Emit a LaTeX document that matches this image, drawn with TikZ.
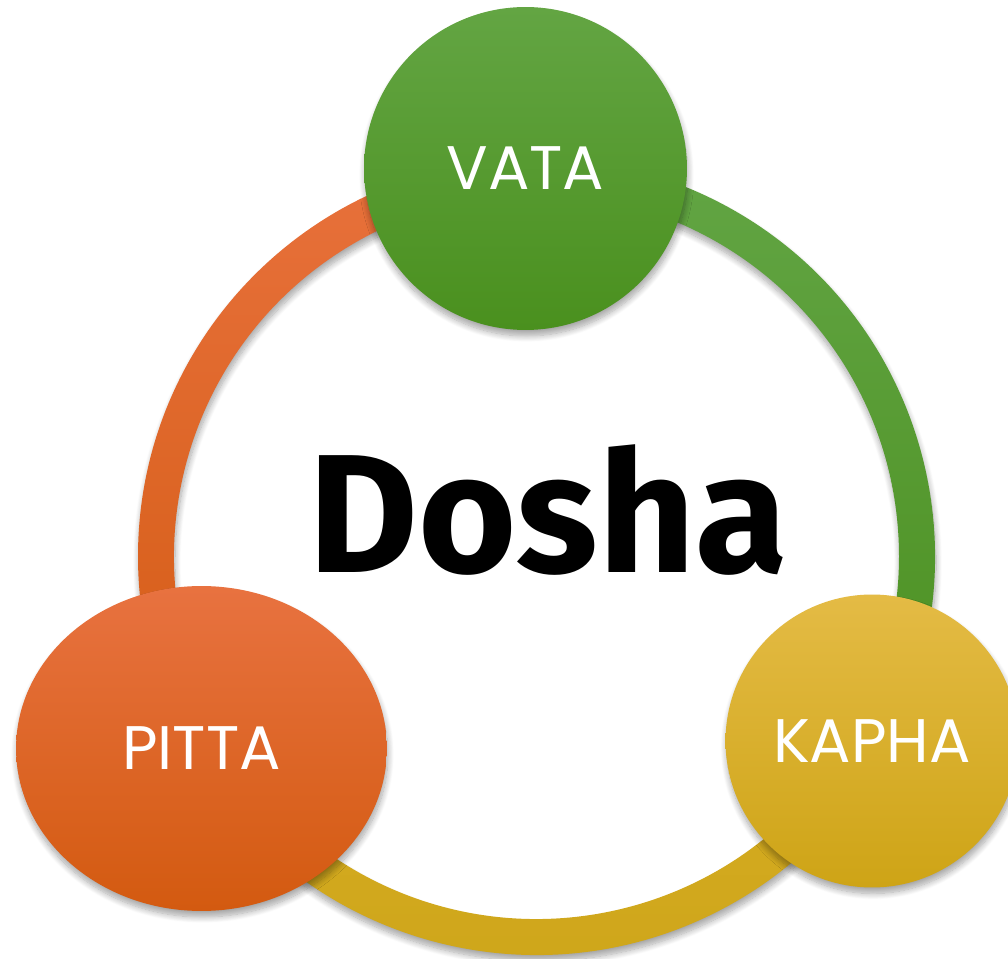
\documentclass[tikz,border=0pt]{standalone}
\usepackage{fontspec}
\newfontfamily\lblfont{Poppins}
\newfontfamily\titlefont{Fira Sans}
\usetikzlibrary{shapes.geometric,shadows.blur}
\definecolor{vatatop}{HTML}{63A543}
\definecolor{vatabot}{HTML}{4A901E}
\definecolor{pittatop}{HTML}{E87240}
\definecolor{pittabot}{HTML}{D35A10}
\definecolor{kaphatop}{HTML}{E4BB45}
\definecolor{kaphabot}{HTML}{CEA416}
\definecolor{ringgrntop}{HTML}{62A544}
\definecolor{ringgrnbot}{HTML}{4C9020}
\definecolor{ringorgtop}{HTML}{E8713C}
\definecolor{ringorgbot}{HTML}{D45C14}
\definecolor{ringyeltop}{HTML}{D6AC22}
\definecolor{ringyelbot}{HTML}{CDA519}

\begin{document}
\begin{tikzpicture}[x=0.02cm, y=0.02cm,
  soft/.style={blur shadow={shadow xshift=0.02cm, shadow yshift=-0.12cm, shadow blur radius=0.12cm, shadow blur steps=10, shadow opacity=35}},
  dosha/.style={soft, inner sep=0pt, text=white, font=\lblfont\fontsize{35}{40}\selectfont}]
\useasboundingbox (0,0) rectangle (1008,958);
\coordinate (c) at (536.5,401.5);
\begin{scope}[shift={(c)}]
\path[soft, top color=ringorgtop, bottom color=ringorgbot] (90:398.5) arc[start angle=90, end angle=210, radius=398.5] -- (210:362.5) arc[start angle=210, end angle=90, radius=362.5] -- cycle;
\path[soft, top color=ringgrntop, bottom color=ringgrnbot] (-30:398.5) arc[start angle=-30, end angle=90, radius=398.5] -- (90:362.5) arc[start angle=90, end angle=-30, radius=362.5] -- cycle;
\path[soft, top color=ringyeltop, bottom color=ringyelbot] (210:398.5) arc[start angle=210, end angle=330, radius=398.5] -- (330:362.5) arc[start angle=330, end angle=210, radius=362.5] -- cycle;
\end{scope}
\node[dosha, circle, minimum size=6.46cm, top color=vatatop, bottom color=vatabot] (vata) at (525.5,789.5) {VATA};
\node[dosha, ellipse, minimum width=7.42cm, minimum height=6.5cm, top color=pittatop, bottom color=pittabot] (pitta) at (201.5,209.5) {PITTA};
\node[dosha, circle, minimum size=5.86cm, top color=kaphatop, bottom color=kaphabot] (kapha) at (872,217) {KAPHA};
\node[anchor=base, inner sep=0pt, font=\titlefont\bfseries\fontsize{96}{106}\selectfont] (title) at (548,386) {Dosha};
\end{tikzpicture}
\end{document}
